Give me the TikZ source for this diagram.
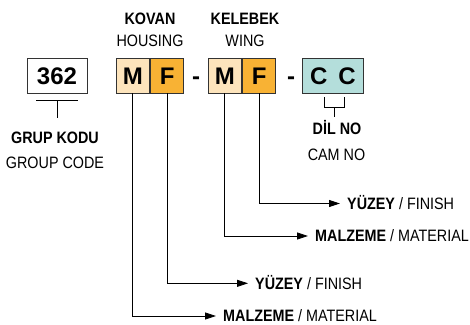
\documentclass[tikz,border=0pt]{standalone}
\usepackage{fontspec}
\setmainfont{Liberation Sans}[FakeStretch=0.87]
\newfontfamily\boxfont{Liberation Sans}
\usepackage{tikz}
\usetikzlibrary{arrows.meta,positioning}
\definecolor{lightorange}{RGB}{253,228,188}
\definecolor{darkorange}{RGB}{248,178,52}
\definecolor{lightteal}{RGB}{180,222,219}

\begin{document}
\begin{tikzpicture}[x=1pt, y=-1pt, every node/.style={font=\fontsize{16.5}{19}\selectfont, text height=11.8pt, text depth=0pt},
	codebox/.style={draw=black!80, line width=0.9pt, inner sep=0pt, minimum height=35pt, text height=17.2pt, font=\boxfont\bfseries\fontsize{24}{26}\selectfont},
	lbl/.style={anchor=west, inner xsep=7pt, inner ysep=0pt},
	arr/.style={-{Triangle[length=11pt,width=7pt]}, line width=0.8pt}]
	\useasboundingbox (0,0) rectangle (470,324);
		\node[codebox, fill=white, minimum width=60pt] (grp) at (57,75.5) {362};
		\node[codebox, fill=lightorange, minimum width=33.5pt] (hm) at (132.75,75.5) {M};
		\node[codebox, fill=darkorange, minimum width=33.5pt, right=0pt of hm] (hf) {F};
		\node[codebox, draw=none, text height=17.2pt] (d1) at (196,75.5) {-};
		\node[codebox, fill=lightorange, minimum width=33.5pt] (wm) at (224.75,75.5) {M};
		\node[codebox, fill=darkorange, minimum width=33.5pt, right=0pt of wm] (wf) {F};
		\node[codebox, draw=none] (d2) at (291,75.5) {-};
		\node[codebox, fill=lightteal, minimum width=61pt] (cam) at (333,75.5) {C\hspace{11pt}C};

		\node[font=\fontsize{16.5}{19}\selectfont\bfseries] (kovan) at (150,18.3) {KOVAN};
		\node (housing) at (150,41) {HOUSING};
		\node[font=\fontsize{16.5}{19}\selectfont\bfseries] (kelebek) at (245,18.3) {KELEBEK};
		\node (wing) at (245,41) {WING};
		\node[font=\fontsize{16.5}{19}\selectfont\bfseries] (grpkodu) at (55,137.5) {GRUP KODU};
		\node (grpcode) at (55,162.5) {GROUP CODE};
		\node[font=\fontsize{16.5}{19}\selectfont\bfseries] (dilno) at (337,129) {DİL NO};
		\node (camno) at (336.5,155) {CAM NO};

		\draw[line width=0.8pt] ([xshift=-21pt,yshift=-7pt]grp.south) -- ([xshift=21pt,yshift=-7pt]grp.south);
		\draw[line width=0.8pt] ([yshift=-7pt]grp.south) -- ([yshift=-25pt]grp.south);
		\draw[line width=0.8pt] ([xshift=-9pt,yshift=-4pt]cam.south) |- ([xshift=11pt,yshift=-14pt]cam.south) -- ([xshift=11pt,yshift=-4pt]cam.south);
		\draw[line width=0.8pt] ([xshift=1pt,yshift=-14pt]cam.south) -- ([xshift=1pt,yshift=-24pt]cam.south);

		\node[lbl] (wfin) at (340,203.5) {\textbf{YÜZEY} / FINISH};
		\node[lbl] (wmat) at (308,236) {\textbf{MALZEME} / MATERIAL};
		\node[lbl] (hfin) at (248,283.3) {\textbf{YÜZEY} / FINISH};
		\node[lbl] (hmat) at (216,316) {\textbf{MALZEME} / MATERIAL};

		\draw[arr] (wf.south) |- (wfin);
		\draw[arr] (wm.south) |- (wmat);
		\draw[arr] (hf.south) |- (hfin);
		\draw[arr] (hm.south) |- (hmat);
	\end{tikzpicture}
\end{document}
